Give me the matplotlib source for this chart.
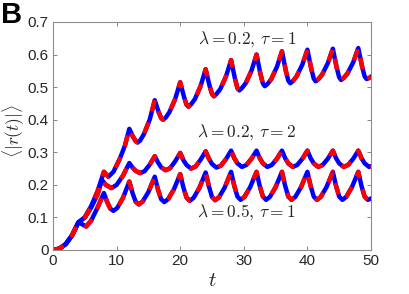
import matplotlib
matplotlib.use("Agg")
import matplotlib.pyplot as plt

plt.rcParams['font.family'] = ['Liberation Sans', 'DejaVu Sans']
plt.rcParams['mathtext.fontset'] = 'cm'

# lambda = 0.2, tau = 1 (top curve)
t_a = [0, 1, 2, 3, 4, 5, 6, 7, 8, 8.7, 9.5, 10.5, 11.3,
       12, 12.6, 13.0, 13.3, 13.7, 14.3, 15.2,
       16, 16.6, 17.0, 17.3, 17.7, 18.3, 19.2,
       20, 20.6, 21.0, 21.3, 21.7, 22.3, 23.2,
       24, 24.6, 25.0, 25.3, 25.7, 26.3, 27.2,
       28, 28.6, 29.0, 29.3, 29.7, 30.3, 31.2,
       32, 32.6, 33.0, 33.3, 33.7, 34.3, 35.2,
       36, 36.6, 37.0, 37.3, 37.7, 38.3, 39.2,
       40, 40.6, 41.0, 41.3, 41.7, 42.3, 43.2,
       44, 44.6, 45.0, 45.3, 45.7, 46.3, 47.2,
       48, 48.6, 49.0, 49.3, 49.7, 50]
r_a = [0, 0.004, 0.018, 0.045, 0.085, 0.1, 0.135, 0.18, 0.24, 0.225, 0.24, 0.28, 0.32,
       0.372, 0.347, 0.334, 0.33, 0.336, 0.356, 0.40,
       0.46, 0.424, 0.405, 0.40, 0.406, 0.423, 0.463,
       0.515, 0.47, 0.446, 0.44, 0.447, 0.463, 0.503,
       0.555, 0.505, 0.479, 0.472, 0.479, 0.494, 0.533,
       0.583, 0.527, 0.497, 0.49, 0.497, 0.512, 0.55,
       0.60, 0.542, 0.511, 0.503, 0.509, 0.524, 0.562,
       0.61, 0.551, 0.52, 0.512, 0.518, 0.533, 0.569,
       0.615, 0.557, 0.526, 0.518, 0.524, 0.538, 0.573,
       0.618, 0.56, 0.53, 0.522, 0.528, 0.542, 0.576,
       0.62, 0.563, 0.533, 0.525, 0.528, 0.532]

# lambda = 0.2, tau = 2 (middle curve)
t_b = [0, 1, 2, 3, 4, 5, 6, 7, 7.7, 8.3, 9.2, 10, 11,
       12, 12.5, 13.0, 13.7, 14.4, 15.2,
       16, 16.5, 17.0, 17.7, 18.4, 19.2,
       20, 20.5, 21.0, 21.7, 22.4, 23.2,
       24, 24.5, 25.0, 25.7, 26.4, 27.2,
       28, 28.5, 29.0, 29.7, 30.4, 31.2,
       32, 32.5, 33.0, 33.7, 34.4, 35.2,
       36, 36.5, 37.0, 37.7, 38.4, 39.2,
       40, 40.5, 41.0, 41.7, 42.4, 43.2,
       44, 44.5, 45.0, 45.7, 46.4, 47.2,
       48, 48.5, 49.0, 49.7, 50]
r_b = [0, 0.004, 0.018, 0.045, 0.085, 0.1, 0.13, 0.17, 0.215, 0.2, 0.19, 0.2, 0.228,
       0.267, 0.253, 0.243, 0.236, 0.242, 0.262,
       0.288, 0.269, 0.254, 0.245, 0.251, 0.272,
       0.298, 0.276, 0.261, 0.25, 0.256, 0.277,
       0.303, 0.281, 0.264, 0.253, 0.259, 0.279,
       0.305, 0.282, 0.266, 0.255, 0.261, 0.28,
       0.305, 0.282, 0.266, 0.255, 0.261, 0.28,
       0.305, 0.282, 0.266, 0.255, 0.261, 0.28,
       0.305, 0.282, 0.266, 0.255, 0.261, 0.28,
       0.305, 0.282, 0.266, 0.255, 0.261, 0.28,
       0.305, 0.282, 0.266, 0.255, 0.257]

# lambda = 0.5, tau = 1 (bottom curve)
t_c = [0, 1, 2, 3, 4, 4.5, 5.2, 6, 7,
       8, 8.5, 9.0, 9.5, 10.1, 11.0,
       12, 12.5, 13.0, 13.5, 14.1, 15.0,
       16, 16.5, 17.0, 17.5, 18.1, 19.0,
       20, 20.5, 21.0, 21.5, 22.1, 23.0,
       24, 24.5, 25.0, 25.5, 26.1, 27.0,
       28, 28.5, 29.0, 29.5, 30.1, 31.0,
       32, 32.5, 33.0, 33.5, 34.1, 35.0,
       36, 36.5, 37.0, 37.5, 38.1, 39.0,
       40, 40.5, 41.0, 41.5, 42.1, 43.0,
       44, 44.5, 45.0, 45.5, 46.1, 47.0,
       48, 48.5, 49.0, 49.5, 50]
r_c = [0, 0.004, 0.018, 0.045, 0.085, 0.08, 0.072, 0.09, 0.13,
       0.175, 0.148, 0.127, 0.12, 0.129, 0.16,
       0.21, 0.175, 0.148, 0.14, 0.149, 0.178,
       0.225, 0.186, 0.156, 0.147, 0.156, 0.186,
       0.233, 0.192, 0.161, 0.151, 0.16, 0.19,
       0.238, 0.196, 0.163, 0.153, 0.162, 0.192,
       0.24, 0.197, 0.164, 0.154, 0.163, 0.193,
       0.24, 0.197, 0.164, 0.154, 0.163, 0.193,
       0.24, 0.197, 0.164, 0.154, 0.163, 0.193,
       0.24, 0.197, 0.164, 0.154, 0.163, 0.193,
       0.24, 0.197, 0.164, 0.154, 0.163, 0.193,
       0.24, 0.197, 0.164, 0.154, 0.158]

labels = [r'$\lambda = 0.2,\, \tau = 1$', r'$\lambda = 0.2,\, \tau = 2$', r'$\lambda = 0.5,\, \tau = 1$']
label_pos = [(30.5, 0.645), (30.5, 0.36), (30.4, 0.115)]

fig = plt.figure(figsize=(4.09, 2.94), dpi=100)
ax = fig.add_axes([0.1296, 0.1497, 0.7775, 0.7755])

for t, r in [(t_a, r_a), (t_b, r_b), (t_c, r_c)]:
    ax.plot(t, r, color=(0, 0, 1), lw=3.2, solid_joinstyle='round')
    ax.plot(t, r, color=(1, 0, 0), lw=3.2, dashes=(2.6, 2.6))

for text, (x, y) in zip(labels, label_pos):
    ax.text(x, y, text, ha='center', va='center', fontsize=12.5, color='0.15')

ax.set_xlim(0, 50)
ax.set_ylim(0, 0.7)
ax.set_xticks([0, 10, 20, 30, 40, 50])
ax.set_yticks([0, 0.1, 0.2, 0.3, 0.4, 0.5, 0.6, 0.7])
ax.set_yticklabels(['0', '0.1', '0.2', '0.3', '0.4', '0.5', '0.6', '0.7'])
ax.tick_params(direction='in', top=True, right=True, length=3, width=0.6,
               color='0.45', labelsize=11, labelcolor='0.15', pad=3)
for s in ax.spines.values():
    s.set_color('0.55')
    s.set_linewidth(0.8)

ax.set_xlabel(r'$t$', fontsize=15, color='0.15', labelpad=2)
ax.set_ylabel(r'$\langle|r(t)|\rangle$', fontsize=12.5, color='0.15')
ax.yaxis.set_label_coords(-0.083, 0.52)

fig.text(0.003, 0.995, 'B', fontsize=21, fontweight='bold', va='top', ha='left')

fig.savefig('out.png', dpi=100)
